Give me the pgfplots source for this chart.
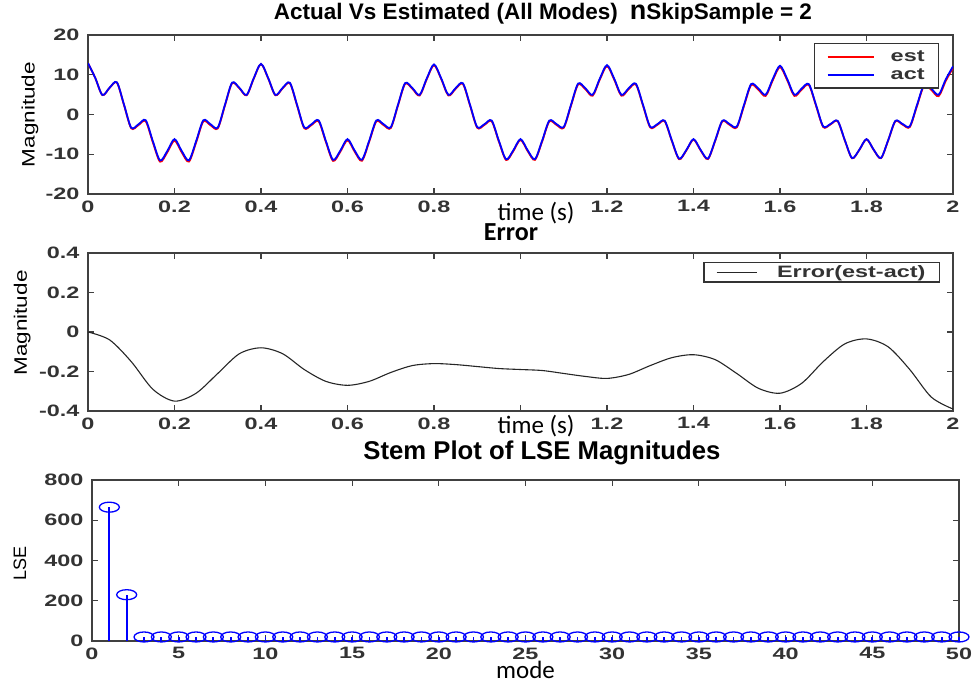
\documentclass[border=0pt]{standalone}
\usepackage{fontspec}
\usepackage{pgfplots}
\usepackage{pgfplotstable}
\pgfplotsset{compat=1.18}
\setmainfont{Liberation Sans}
\newfontfamily\tickfont[FakeStretch=1.42]{Liberation Sans Bold}
\newfontfamily\labfont[FakeStretch=1.25]{Liberation Sans}
\newfontfamily\calfont{Carlito}

% signal: actual and estimated (sum of all modes)
\pgfplotstableread{
t act est
0 12.90 12.90
0.0167 9.22 9.21
0.0333 4.92 4.89
0.05 6.75 6.71
0.0667 8.11 8.03
0.0833 2.47 2.36
0.1 -3.33 -3.48
0.1167 -2.47 -2.67
0.1333 -1.44 -1.68
0.15 -6.73 -7.02
0.1667 -11.56 -11.87
0.1833 -9.19 -9.52
0.2 -6.20 -6.55
0.2167 -9.18 -9.52
0.2333 -11.53 -11.85
0.25 -6.72 -7.03
0.2667 -1.45 -1.73
0.2833 -2.46 -2.70
0.3 -3.29 -3.50
0.3167 2.46 2.28
0.3333 8.02 7.88
0.35 6.70 6.59
0.3667 4.93 4.83
0.3833 9.15 9.06
0.4 12.74 12.66
0.4167 9.15 9.06
0.4333 4.93 4.83
0.45 6.69 6.58
0.4667 7.99 7.85
0.4833 2.45 2.29
0.5 -3.25 -3.44
0.5167 -2.45 -2.66
0.5333 -1.48 -1.71
0.55 -6.67 -6.92
0.5667 -11.41 -11.67
0.5833 -9.11 -9.37
0.6 -6.20 -6.47
0.6167 -9.11 -9.37
0.6333 -11.38 -11.64
0.65 -6.66 -6.91
0.6667 -1.49 -1.73
0.6833 -2.44 -2.66
0.7 -3.21 -3.42
0.7167 2.44 2.25
0.7333 7.90 7.72
0.75 6.65 6.48
0.7667 4.94 4.77
0.7833 9.07 8.91
0.8 12.58 12.42
0.8167 9.07 8.91
0.8333 4.94 4.78
0.85 6.63 6.46
0.8667 7.87 7.70
0.8833 2.43 2.26
0.9 -3.17 -3.35
0.9167 -2.43 -2.61
0.9333 -1.52 -1.70
0.95 -6.62 -6.81
0.9667 -11.26 -11.45
0.9833 -9.03 -9.22
1.0 -6.20 -6.39
1.0167 -9.03 -9.22
1.0333 -11.23 -11.42
1.05 -6.60 -6.80
1.0667 -1.53 -1.73
1.0833 -2.42 -2.63
1.1 -3.13 -3.34
1.1167 2.42 2.20
1.1333 7.78 7.56
1.15 6.59 6.36
1.1667 4.95 4.72
1.1833 9.00 8.77
1.2 12.42 12.18
1.2167 8.99 8.76
1.2333 4.95 4.73
1.25 6.58 6.36
1.2667 7.75 7.55
1.2833 2.41 2.22
1.3 -3.09 -3.26
1.3167 -2.41 -2.57
1.3333 -1.56 -1.70
1.35 -6.56 -6.69
1.3667 -11.11 -11.24
1.3833 -8.96 -9.08
1.4 -6.20 -6.32
1.4167 -8.95 -9.07
1.4333 -11.09 -11.22
1.45 -6.55 -6.69
1.4667 -1.57 -1.73
1.4833 -2.40 -2.59
1.5 -3.05 -3.26
1.5167 2.39 2.15
1.5333 7.66 7.40
1.55 6.53 6.24
1.5667 4.96 4.67
1.5833 8.92 8.62
1.6 12.26 11.95
1.6167 8.91 8.62
1.6333 4.96 4.68
1.65 6.52 6.26
1.6667 7.63 7.41
1.6833 2.39 2.20
1.7 -3.01 -3.16
1.7167 -2.38 -2.50
1.7333 -1.60 -1.69
1.75 -6.50 -6.56
1.7667 -10.96 -11.01
1.7833 -8.88 -8.92
1.8 -6.20 -6.24
1.8167 -8.87 -8.92
1.8333 -10.94 -11.00
1.85 -6.49 -6.57
1.8667 -1.61 -1.72
1.8833 -2.38 -2.53
1.9 -2.97 -3.16
1.9167 2.37 2.13
1.9333 7.55 7.27
1.95 6.48 6.15
1.9667 4.97 4.62
1.9833 8.84 8.47
2.0 12.10 11.71
}\sigdata

% error between estimate and actual signal
\pgfplotstableread{
t err
0 0
0.05 -0.04
0.1 -0.15
0.15 -0.29
0.2 -0.35
0.25 -0.31
0.3 -0.21
0.35 -0.11
0.4 -0.08
0.45 -0.11
0.5 -0.19
0.55 -0.25
0.6 -0.27
0.65 -0.25
0.7 -0.205
0.75 -0.17
0.8 -0.16
0.85 -0.165
0.9 -0.175
0.95 -0.185
1.0 -0.19
1.05 -0.195
1.1 -0.21
1.15 -0.225
1.2 -0.235
1.25 -0.215
1.3 -0.17
1.35 -0.13
1.4 -0.115
1.45 -0.14
1.5 -0.21
1.55 -0.285
1.6 -0.31
1.65 -0.26
1.7 -0.15
1.75 -0.06
1.8 -0.035
1.85 -0.075
1.9 -0.19
1.95 -0.33
2.0 -0.39
}\errdata

\pgfplotsset{
  mlbox/.style={
    scale only axis, anchor=south west,
    axis line style={draw=black!75, line width=1.1pt},
    tick align=inside, major tick length=6pt,
    tick style={draw=black!75, line width=1.1pt},
    ticklabel style={font=\tickfont\fontsize{16.5}{18}\selectfont, text=black!80},
    xticklabel style={yshift=-3pt},
    yticklabel style={xshift=-5pt},
    legend style={draw=black!80, line width=1.1pt, fill=white,
      font=\tickfont\fontsize{16.5}{18}\selectfont, text=black!80,
      cells={anchor=west}, inner xsep=12pt, inner ysep=5pt, row sep=2pt},
    legend image code/.code={\draw[#1, line width=2pt] (0pt,0pt) -- (46pt,0pt);},
  }
}

\begin{document}
\begin{tikzpicture}[x=1pt,y=1pt]
\useasboundingbox (0,0) rectangle (972,683);

% ---- actual vs estimated ----
\begin{axis}[mlbox, at={(88pt,489pt)}, width=865pt, height=159pt,
  xmin=0, xmax=2, ymin=-20, ymax=20,
  xtick={0,0.2,0.4,0.6,0.8,1,1.2,1.4,1.6,1.8,2},
  xticklabels={0,0.2,0.4,0.6,0.8,,1.2,1.4,1.6,1.8,2},
  ytick={-20,-10,0,10,20}, yticklabels={-20,-10,0,10,20},
  title={Actual Vs Estimated (All Modes)\hspace{12pt}{\fontsize{27}{27}\selectfont n}SkipSample = 2},
  title style={at={(axis description cs:0.526,1)}, anchor=base, yshift=9pt,
    font=\bfseries\fontsize{22.5}{24}\selectfont, inner sep=0pt},
  xlabel={time (s)},
  xlabel style={at={(axis description cs:0.518,0)}, anchor=center, yshift=-19pt,
    font=\calfont\fontsize{25}{26}\selectfont},
  ylabel={Magnitude},
  ylabel style={at={(axis description cs:-0.067,0.5)}, anchor=center,
    font=\labfont\fontsize{18}{20}\selectfont},
  legend style={at={(0.984,0.95)}, anchor=north east},
]
\addplot[red, line width=1.8pt, smooth] table[x=t, y=est] {\sigdata};
\addlegendentry{\hspace{14pt}est\hspace{6pt}}
\addplot[blue, line width=1.8pt, smooth] table[x=t, y=act] {\sigdata};
\addlegendentry{\hspace{14pt}act\hspace{6pt}}
\end{axis}

% ---- error ----
\begin{axis}[mlbox, at={(88pt,272pt)}, width=865pt, height=158pt,
  xmin=0, xmax=2, ymin=-0.4, ymax=0.4,
  xtick={0,0.2,0.4,0.6,0.8,1,1.2,1.4,1.6,1.8,2},
  xticklabels={0,0.2,0.4,0.6,0.8,,1.2,1.4,1.6,1.8,2},
  ytick={-0.4,-0.2,0,0.2,0.4}, yticklabels={-0.4,-0.2,0,0.2,0.4},
  title={Error},
  title style={at={(axis description cs:0.489,1)}, anchor=base, yshift=7pt,
    font=\calfont\bfseries\fontsize{26}{28}\selectfont, inner sep=0pt},
  xlabel={time (s)},
  xlabel style={at={(axis description cs:0.518,0)}, anchor=center, yshift=-15pt,
    font=\calfont\fontsize{25}{26}\selectfont},
  ylabel={Magnitude},
  ylabel style={at={(axis description cs:-0.076,0.557)}, anchor=center,
    font=\labfont\fontsize{18}{20}\selectfont},
  legend style={at={(0.985,0.943)}, anchor=north east, inner ysep=1pt},
  legend image code/.code={\draw[#1, line width=1.1pt] (0pt,0pt) -- (40pt,0pt);},
]
\addplot[black!85, line width=1.1pt, smooth] table[x=t, y=err] {\errdata};
\addlegendentry{\hspace{18pt}Error(est-act)\hspace{8pt}}
\end{axis}

% ---- stem plot of LSE per mode ----
\begin{axis}[mlbox, at={(92pt,42pt)}, width=867pt, height=161pt,
  xmin=0, xmax=50, ymin=0, ymax=800, clip=false,
  xtick={0,5,...,50}, xticklabels={0,5,10,15,20,25,30,35,40,45,50},
  ytick={0,200,...,800}, yticklabels={0,200,400,600,800},
  title={Stem Plot of LSE Magnitudes},
  title style={at={(axis description cs:0.519,1)}, anchor=base, yshift=15pt,
    font=\bfseries\fontsize{25.7}{27}\selectfont, inner sep=0pt},
  xlabel={mode},
  xlabel style={at={(axis description cs:0.5,0)}, anchor=center, yshift=-29pt,
    font=\calfont\fontsize{25}{26}\selectfont},
  ylabel={LSE},
  ylabel style={at={(axis description cs:-0.083,0.484)}, anchor=center,
    font=\fontsize{18}{20}\selectfont},
]
\addplot[draw=blue, color=blue, line width=1.8pt, ycomb, mark=o, mark size=5pt,
  mark options={draw=blue, xscale=2, line width=1.3pt}] coordinates {
  (1,665) (2,230) (3,20) (4,20) (5,20) (6,20) (7,20) (8,20) (9,20) (10,20)
  (11,20) (12,20) (13,20) (14,20) (15,20) (16,20) (17,20) (18,20) (19,20) (20,20)
  (21,20) (22,20) (23,20) (24,20) (25,20) (26,20) (27,20) (28,20) (29,20) (30,20)
  (31,20) (32,20) (33,20) (34,20) (35,20) (36,20) (37,20) (38,20) (39,20) (40,20)
  (41,20) (42,20) (43,20) (44,20) (45,20) (46,20) (47,20) (48,20) (49,20) (50,20)
};
\end{axis}
\end{tikzpicture}
\end{document}
